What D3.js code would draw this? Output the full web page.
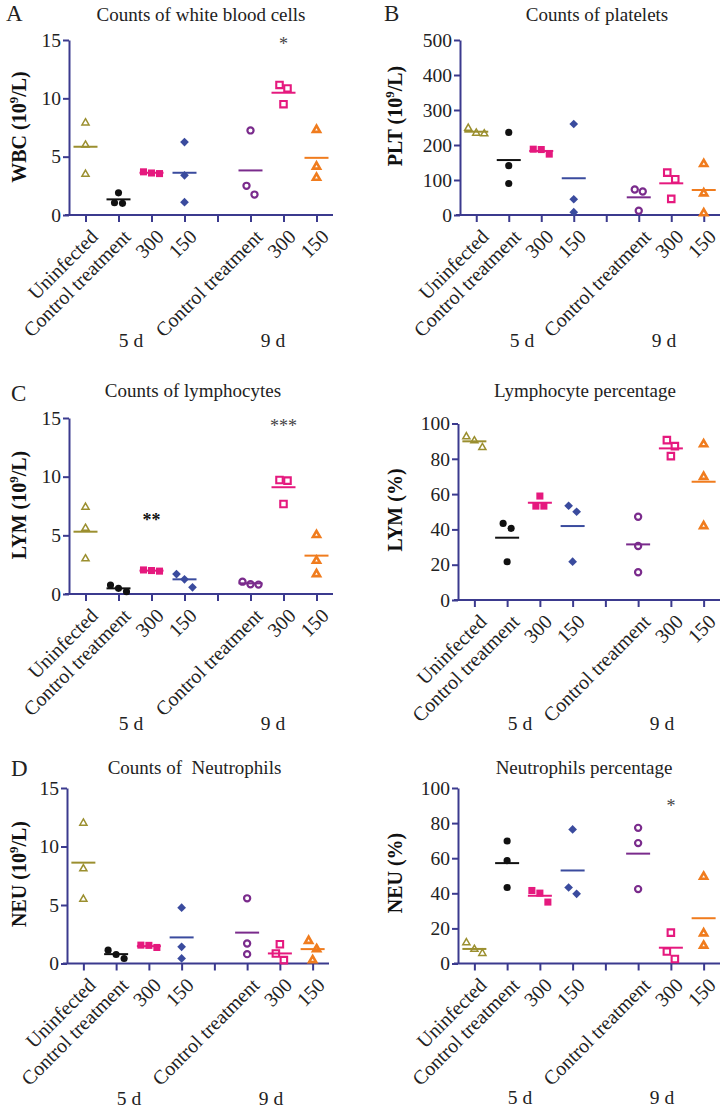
<!DOCTYPE html>
<html>
<head>
<meta charset="utf-8">
<script src="https://cdn.jsdelivr.net/npm/d3@7"></script>
<style>
  body { margin: 0; background: #fff; }
  svg { display: block; font-family: "Liberation Serif", "Times New Roman", serif; }
</style>
</head>
<body>
<svg id="chart" width="724" height="1111"></svg>
<script>
// x positions: 8 slots, slot 4 is an empty gap between the 5 d and 9 d groups
const tickLabels = ["Uninfected", "Control treatment", "300", "150", "", "Control treatment", "300", "150"];
const groupSlot = [0, 1, 2, 3, 5, 6, 7];
const dayLabels = ["5 d", "9 d"];

// each group: three animals, plus the mean line
const wbcValues = [[7.9, 6.0, 3.5], [1.9, 1.05, 1.0], [3.7, 3.55, 3.6], [6.25, 3.4, 1.1], [7.25, 2.5, 1.75], [11.15, 10.85, 9.5], [7.3, 4.15, 3.2]];
const wbcMeans = [5.85, 1.34, 3.62, 3.62, 3.82, 10.48, 4.9];
const wbcStars = [{ slot: 6, text: "*", value: 14.9 }];

const pltValues = [[248, 232, 234], [236, 141, 90], [188, 187, 174], [260, 45, 8], [73, 67, 12], [121, 102, 46], [146, 62, 5]];
const pltMeans = [238, 157, 183, 105, 50.5, 90.5, 71.4];
const pltStars = [];

const lymValues = [[7.4, 5.6, 3.0], [0.77, 0.48, 0.2], [2.05, 1.95, 2.0], [1.7, 1.25, 0.57], [1.05, 0.8, 0.83], [9.72, 9.66, 7.67], [5.03, 2.84, 1.7]];
const lymMeans = [5.31, 0.48, 1.99, 1.25, 0.91, 9.1, 3.27];
const lymStars = [{ slot: 2, text: "**", value: 6.6, bold: true }, { slot: 6, text: "***", value: 14.55 }];

const lymPctValues = [[92.5, 90.2, 86.4], [43.4, 40.6, 21.7], [58.9, 53.2, 53.2], [53.4, 50, 21.7], [47.2, 30.6, 15.7], [90.6, 87.2, 81.5], [88.3, 69.8, 41.9]];
const lymPctMeans = [89.9, 35.3, 55.1, 41.9, 31.5, 85.9, 67];
const lymPctStars = [];

const neuValues = [[12.0, 8.1, 5.5], [1.14, 0.77, 0.43], [1.57, 1.37, 1.55], [4.77, 1.43, 0.43], [5.57, 1.71, 0.8], [1.65, 0.86, 0.29], [1.94, 1.23, 0.29]];
const neuMeans = [8.62, 0.8, 1.48, 2.23, 2.64, 0.86, 1.23];
const neuStars = [];

const neuPctValues = [[11.9, 8.1, 5.8], [69.8, 58.6, 43.3], [41.6, 40.1, 35.0], [76.4, 43.3, 39.7], [77.3, 68.6, 42.4], [17.6, 6.8, 2.6], [49.5, 17.2, 10.2]];
const neuPctMeans = [8.3, 57.2, 38.6, 53, 62.6, 9, 25.8];
const neuPctStars = [{ slot: 6, text: "*", value: 91.4 }];

const countTicks = [0, 5, 10, 15];
const pltTicks = [0, 100, 200, 300, 400, 500];
const pctTicks = [0, 20, 40, 60, 80, 100];

// marker styles per group
const olive = "#9b8f2f", black = "#111111", magenta = "#e5197e", blue = "#3a4b9e", purple = "#7a2b8c", orange = "#f07c1e";
const axisColor = "#3b3a8e";
const styles = [
  { shape: d3.symbolTriangle, area: 22, fill: "none", stroke: olive, sw: 1.5, color: olive },
  { shape: d3.symbolCircle, area: 40, fill: black, stroke: "none", sw: 0, color: black },
  { shape: d3.symbolSquare, area: 50, fill: magenta, stroke: "none", sw: 0, color: magenta },
  { shape: d3.symbolSquare, area: 38, fill: blue, stroke: "none", sw: 0, color: blue, rotate: 45 },
  { shape: d3.symbolCircle, area: 30, fill: "none", stroke: purple, sw: 2.2, color: purple },
  { shape: d3.symbolSquare, area: 42, fill: "none", stroke: magenta, sw: 2.1, color: magenta },
  { shape: d3.symbolTriangle, area: 22, fill: "none", stroke: orange, sw: 2.6, color: orange }
];

const panels = [
  { title: "Counts of white blood cells", label: ["WBC (10", "9", "/L)"], values: wbcValues, means: wbcMeans, stars: wbcStars, ticks: countTicks,
    x0: 69, x1: 333, top: 40, bottom: 215, titleX: 201, titleY: 21, letter: "A", letterX: 6, letterY: 21, labelX: 19, labelY: 127, dayY: 347 },
  { title: "Counts of platelets", label: ["PLT (10", "9", "/L)"], values: pltValues, means: pltMeans, stars: pltStars, ticks: pltTicks,
    x0: 460, x1: 720, top: 40, bottom: 215, titleX: 597, titleY: 21, letter: "B", letterX: 384, letterY: 21, labelX: 395, labelY: 116, dayY: 347 },
  { title: "Counts of lymphocytes", label: ["LYM (10", "9", "/L)"], values: lymValues, means: lymMeans, stars: lymStars, ticks: countTicks,
    x0: 69, x1: 333, top: 418, bottom: 594, titleX: 193, titleY: 397, letter: "C", letterX: 11, letterY: 401, labelX: 19, labelY: 505, dayY: 730 },
  { title: "Lymphocyte percentage", label: ["LYM (%)"], values: lymPctValues, means: lymPctMeans, stars: lymPctStars, ticks: pctTicks,
    x0: 458, x1: 720, top: 423.5, bottom: 600, titleX: 585, titleY: 397, letter: "", labelX: 395, labelY: 510, dayY: 730 },
  { title: "Counts of  Neutrophils", label: ["NEU (10", "9", "/L)"], values: neuValues, means: neuMeans, stars: neuStars, ticks: countTicks,
    x0: 67, x1: 329, top: 788, bottom: 963.5, titleX: 194.5, titleY: 774, letter: "D", letterX: 11, letterY: 776, labelX: 19, labelY: 874, dayY: 1105 },
  { title: "Neutrophils percentage", label: ["NEU (%)"], values: neuPctValues, means: neuPctMeans, stars: neuPctStars, ticks: pctTicks,
    x0: 458, x1: 720, top: 788, bottom: 963.5, titleX: 584, titleY: 774, letter: "", labelX: 395, labelY: 873, dayY: 1104 }
];

const svg = d3.select("#chart");
svg.append("rect").attr("width", 724).attr("height", 1111).attr("fill", "#fff");

// spread points that sit at nearly the same height sideways, like a scatter dot plot
function spread(vals, y, gap, step) {
  const idx = d3.range(vals.length).sort((a, b) => vals[b] - vals[a]);
  const off = vals.map(() => 0);
  const rows = [[idx[0]]];
  for (let k = 1; k < idx.length; k++) {
    const row = rows[rows.length - 1];
    const prev = row[row.length - 1];
    if (Math.abs(y(vals[idx[k]]) - y(vals[prev])) < gap) row.push(idx[k]);
    else rows.push([idx[k]]);
  }
  rows.forEach(r => r.forEach((i, j) => off[i] = (j - (r.length - 1) / 2) * step));
  return off;
}

panels.forEach(p => {
  const g = svg.append("g");
  const x = d3.scalePoint().domain(d3.range(tickLabels.length)).range([p.x0, p.x1]).padding(0.5);
  const y = d3.scaleLinear().domain([0, d3.max(p.ticks)]).range([p.bottom, p.top]);

  // y axis
  const ya = g.append("g")
    .attr("transform", `translate(${p.x0},0)`)
    .call(d3.axisLeft(y).tickValues(p.ticks).tickSize(6).tickSizeOuter(0).tickPadding(2))
    .attr("font-family", null)
    .attr("font-size", null);
  ya.select(".domain").attr("stroke", axisColor).attr("stroke-width", 2);
  ya.selectAll(".tick line").attr("stroke", axisColor).attr("stroke-width", 2);
  ya.selectAll(".tick text").attr("font-size", 19.5).attr("fill", "#222");

  // x axis
  const xa = g.append("g")
    .attr("transform", `translate(0,${p.bottom})`)
    .call(d3.axisBottom(x).tickSize(7).tickSizeOuter(0).tickFormat(""))
    .attr("font-family", null);
  xa.select(".domain").attr("d", `M${p.x0 - 4},0H${p.x1}`).attr("stroke", axisColor).attr("stroke-width", 2);
  xa.selectAll(".tick line").attr("stroke", axisColor).attr("stroke-width", 2);

  g.selectAll(".xlab")
    .data(tickLabels.map((t, i) => ({ t, i })).filter(d => d.t))
    .join("text")
    .attr("class", "xlab")
    .attr("transform", d => `translate(${x(d.i) + 13.5},${p.bottom + 23}) rotate(-45)`)
    .attr("text-anchor", "end")
    .attr("font-size", 20)
    .attr("fill", "#222")
    .text(d => d.t);

  // 5 d / 9 d under the two groups
  g.selectAll(".day")
    .data(dayLabels)
    .join("text")
    .attr("x", (d, i) => p.x0 + (i === 0 ? 62 : 204))
    .attr("y", p.dayY)
    .attr("text-anchor", "middle")
    .attr("font-size", 19.5)
    .attr("fill", "#222")
    .text(d => d);

  // title and panel letter
  g.append("text").attr("x", p.titleX).attr("y", p.titleY).attr("text-anchor", "middle")
    .attr("font-size", 19).attr("fill", "#222").attr("xml:space", "preserve").text(p.title);
  if (p.letter) {
    g.append("text").attr("x", p.letterX).attr("y", p.letterY).attr("font-size", 23)
      .attr("fill", "#222").text(p.letter);
  }

  // y axis title
  const lab = g.append("text")
    .attr("transform", `translate(${p.labelX},${p.labelY}) rotate(-90)`)
    .attr("text-anchor", "middle")
    .attr("dy", "0.36em")
    .attr("font-size", 20)
    .attr("font-weight", "bold")
    .attr("fill", "#111");
  lab.append("tspan").text(p.label[0]);
  if (p.label.length > 1) {
    lab.append("tspan").attr("dy", -8).attr("font-size", 13).text(p.label[1]);
    lab.append("tspan").attr("dy", 8).text(p.label[2]);
  }

  // points
  p.values.forEach((vals, gi) => {
    const s = styles[gi];
    const cx = x(groupSlot[gi]);
    const off = spread(vals, y, 9, 8);
    g.selectAll(null)
      .data(vals)
      .join("path")
      .attr("d", d3.symbol().type(s.shape).size(s.area))
      .attr("transform", (v, i) => `translate(${cx + off[i]},${y(v)})` + (s.rotate ? ` rotate(${s.rotate})` : ""))
      .attr("fill", s.fill)
      .attr("stroke", s.stroke)
      .attr("stroke-width", s.sw)
      .attr("stroke-linejoin", "miter");
  });

  // mean lines
  g.selectAll(".mean")
    .data(p.means)
    .join("line")
    .attr("class", "mean")
    .attr("x1", (m, gi) => x(groupSlot[gi]) - 12)
    .attr("x2", (m, gi) => x(groupSlot[gi]) + 12)
    .attr("y1", m => y(m))
    .attr("y2", m => y(m))
    .attr("stroke", (m, gi) => styles[gi].color)
    .attr("stroke-width", 2);

  // significance stars
  g.selectAll(".star")
    .data(p.stars)
    .join("text")
    .attr("class", "star")
    .attr("x", d => x(d.slot))
    .attr("y", d => y(d.value))
    .attr("dy", "0.5em")
    .attr("text-anchor", "middle")
    .attr("font-size", 18)
    .attr("font-weight", d => d.bold ? "bold" : "normal")
    .attr("fill", d => d.bold ? "#111" : "#444")
    .text(d => d.text);
});
</script>
</body>
</html>
